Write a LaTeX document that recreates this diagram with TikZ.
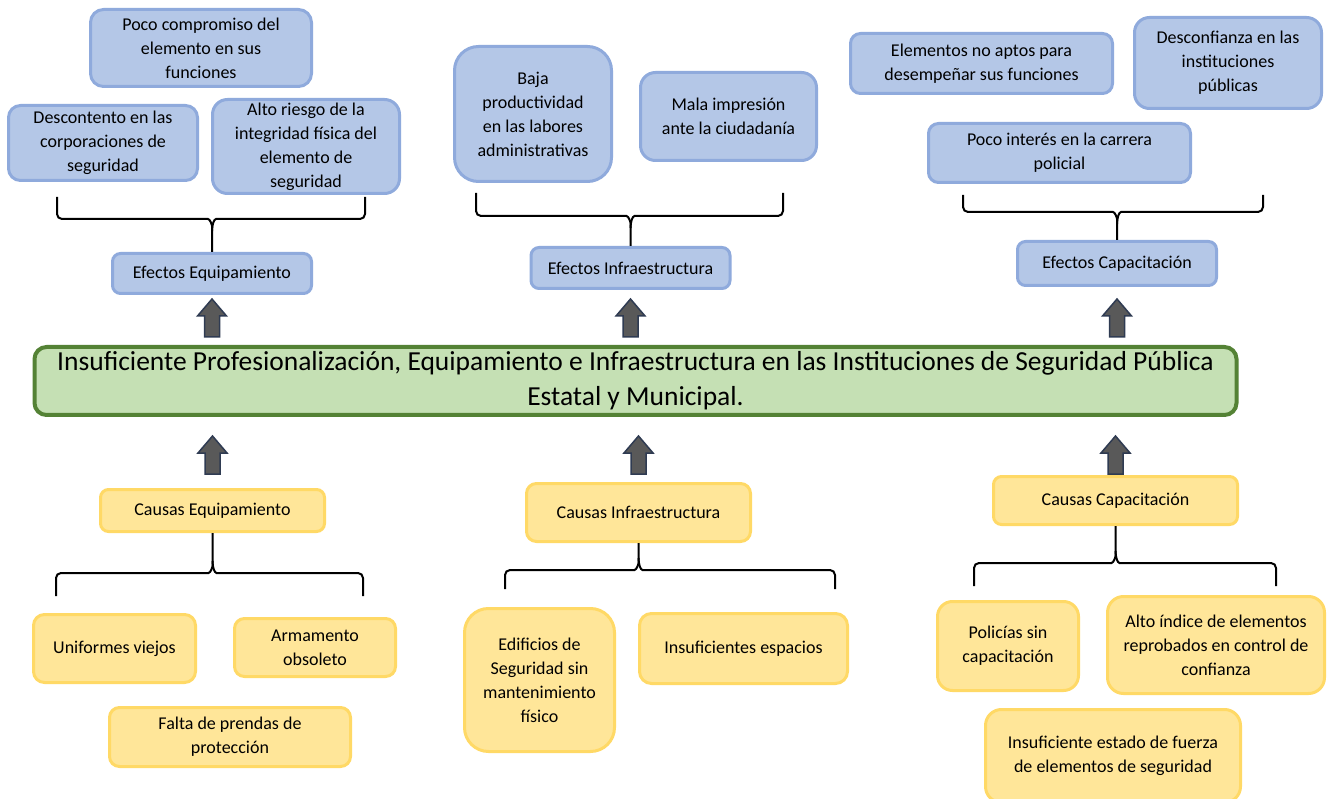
\documentclass[tikz,border=0pt]{standalone}
\usepackage{fontspec}
\setmainfont{Carlito}
\usetikzlibrary{calc}
\usetikzlibrary{positioning}

\definecolor{efFill}{HTML}{B4C7E7}
\definecolor{efLine}{HTML}{8FAADC}
\definecolor{caFill}{HTML}{FFE699}
\definecolor{caLine}{HTML}{FFD966}
\definecolor{prFill}{HTML}{C5E0B4}
\definecolor{prLine}{HTML}{548235}
\definecolor{arFill}{HTML}{595959}
\definecolor{arLine}{HTML}{2F3B52}

% block arrow, #1 = bottom centre
\newcommand{\blockarrow}[1]{%
	\draw[blockarr] ($#1+(-7.5,0)$) -- ++(15,0) -- ++(0,-21) -- ++(7,0)
		-- ++(-14.5,-17) -- ++(-14.5,17) -- ++(7,0) -- cycle;}
% brace above a box: left end, right end, box, depth
\newcommand{\effbrace}[4]{%
	\draw[bracket] (#1) |- ($(#3.north)+(-9,-#4)$) .. controls +(7,0) and +(0,-6) .. ($(#3.north)+(0,{-#4+12})$) -- (#3.north);
	\draw[bracket] (#2) |- ($(#3.north)+(9,-#4)$) .. controls +(-7,0) and +(0,-6) .. ($(#3.north)+(0,{-#4+12})$);}
% brace below a box
\newcommand{\causbrace}[4]{%
	\draw[bracket] (#3.south) -- ($(#3.south)+(0,{#4-12})$) .. controls +(0,6) and +(7,0) .. ($(#3.south)+(-9,#4)$) -| (#1);
	\draw[bracket] ($(#3.south)+(0,{#4-12})$) .. controls +(0,6) and +(-7,0) .. ($(#3.south)+(9,#4)$) -| (#2);}

\begin{document}
\begin{tikzpicture}[
		x=1pt,y=-1pt,
		efecto/.style={draw=efLine,fill=efFill,line width=3pt,rounded corners=8pt,align=center,inner sep=1pt,font=\fontsize{18}{24}\selectfont},
		causa/.style={draw=caLine,fill=caFill,line width=3pt,rounded corners=8pt,align=center,inner sep=1pt,font=\fontsize{18}{24}\selectfont},
		problema/.style={draw=prLine,fill=prFill,line width=4pt,rounded corners=12pt,align=center,inner sep=1pt,font=\fontsize{27.5}{35}\selectfont},
		bracket/.style={line width=2pt,black,rounded corners=5pt},
		blockarr/.style={fill=arFill,draw=arLine,line width=1.5pt,line join=miter}
		]
	\clip (0,0) rectangle (1328,799);
	\fill[white] (0,0) rectangle (1328,799);

	% efectos
	\node[efecto,minimum width=221pt,minimum height=77pt,rounded corners=13pt] (poco) at (201,48) {Poco compromiso del\\elemento en sus\\funciones};
	\node[efecto,minimum width=189pt,minimum height=75pt,rounded corners=12pt] (descontento) at (103,143) {Descontento en las\\corporaciones de\\seguridad};
	\node[efecto,minimum width=187pt,minimum height=94pt,rounded corners=15pt] (riesgo) at (306,146.5) {Alto riesgo de la\\integridad física del\\elemento de\\seguridad};
	\node[efecto,minimum width=199pt,minimum height=40pt] (efEq) at (212,273.5) {Efectos Equipamiento};

	\node[efecto,minimum width=157pt,minimum height=135pt,rounded corners=24pt] (baja) at (533,114) {Baja\\productividad\\en las labores\\administrativas};
	\node[efecto,minimum width=176pt,minimum height=88pt,rounded corners=15pt] (mala) at (728.5,116.5) {Mala impresión\\ante la ciudadanía};
	\node[efecto,minimum width=199pt,minimum height=41pt] (efInf) at (630.5,268) {Efectos Infraestructura};

	\node[efecto,minimum width=262pt,minimum height=60pt,rounded corners=10pt] (noaptos) at (981.5,63.5) {Elementos no aptos para\\desempeñar sus funciones};
	\node[efecto,minimum width=187pt,minimum height=91pt,rounded corners=15pt] (desconfianza) at (1228,63) {Desconfianza en las\\instituciones\\públicas};
	\node[efecto,minimum width=262pt,minimum height=59pt,rounded corners=10pt] (interes) at (1059.5,153) {Poco interés en la carrera\\policial};
	\node[efecto,minimum width=199pt,minimum height=44pt] (efCap) at (1117,263.5) {Efectos Capacitación};

	% problema central
	\node[problema,minimum width=1202pt,minimum height=68pt] (problema) at (635.5,381) {Insuficiente Profesionalización, Equipamiento e Infraestructura en las Instituciones de Seguridad Pública\\Estatal y Municipal.};

	% causas
	\node[causa,minimum width=224pt,minimum height=42pt] (caEq) at (212.5,510.5) {Causas Equipamiento};
	\node[causa,minimum width=162pt,minimum height=68pt,rounded corners=11pt] (uniformes) at (114.5,648.5) {Uniformes viejos};
	\node[causa,minimum width=161pt,minimum height=58pt,rounded corners=10pt] (armamento) at (315,647.5) {Armamento\\obsoleto};
	\node[causa,minimum width=241pt,minimum height=59pt,rounded corners=10pt] (prendas) at (230,737) {Falta de prendas de\\protección};

	\node[causa,minimum width=224pt,minimum height=58pt,rounded corners=10pt] (caInf) at (638.5,512.5) {Causas Infraestructura};
	\node[causa,minimum width=150pt,minimum height=143pt,rounded corners=24pt] (edificios) at (539.5,680) {Edificios de\\Seguridad sin\\mantenimiento\\físico};
	\node[causa,minimum width=208pt,minimum height=70pt,rounded corners=12pt] (espacios) at (743.5,648.5) {Insuficientes espacios};

	\node[causa,minimum width=244pt,minimum height=48pt] (caCap) at (1115.5,500.5) {Causas Capacitación};
	\node[causa,minimum width=141pt,minimum height=89pt,rounded corners=15pt] (policias) at (1008,646) {Policías sin\\capacitación};
	\node[causa,minimum width=217pt,minimum height=97pt,rounded corners=16pt] (reprobados) at (1216,645) {Alto índice de elementos\\reprobados en control de\\confianza};
	\node[causa,minimum width=255pt,minimum height=93pt,rounded corners=16pt] (fuerza) at (1113,756) {Insuficiente estado de fuerza\\de elementos de seguridad};

	% llaves
	\coordinate (efEqL) at (57,197);
	\coordinate (efEqR) at (365,197);
	\coordinate (efInfL) at (476,193);
	\coordinate (efInfR) at (783,193);
	\coordinate (efCapL) at (963,195);
	\coordinate (efCapR) at (1263,195);
	\coordinate (caEqL) at (56,596);
	\coordinate (caEqR) at (363,596);
	\coordinate (caInfL) at (505,589);
	\coordinate (caInfR) at (835,589);
	\coordinate (caCapL) at (974,586);
	\coordinate (caCapR) at (1276,586);

	\effbrace{efEqL}{efEqR}{efEq}{33}
	\effbrace{efInfL}{efInfR}{efInf}{30}
	\effbrace{efCapL}{efCapR}{efCap}{28}
	\causbrace{caEqL}{caEqR}{caEq}{40}
	\causbrace{caInfL}{caInfR}{caInf}{27}
	\causbrace{caCapL}{caCapR}{caCap}{37}

	% flechas
	\blockarrow{($(problema.north -| efEq)+(0,-8)$)}
	\blockarrow{($(problema.north -| efInf)+(0,-8)$)}
	\blockarrow{($(problema.north -| efCap)+(0,-8)$)}
	\blockarrow{($(problema.south -| caEq)+(0,57)$)}
	\blockarrow{($(problema.south -| caInf)+(0,57)$)}
	\blockarrow{($(problema.south -| caCap)+(0,57)$)}
\end{tikzpicture}
\end{document}
